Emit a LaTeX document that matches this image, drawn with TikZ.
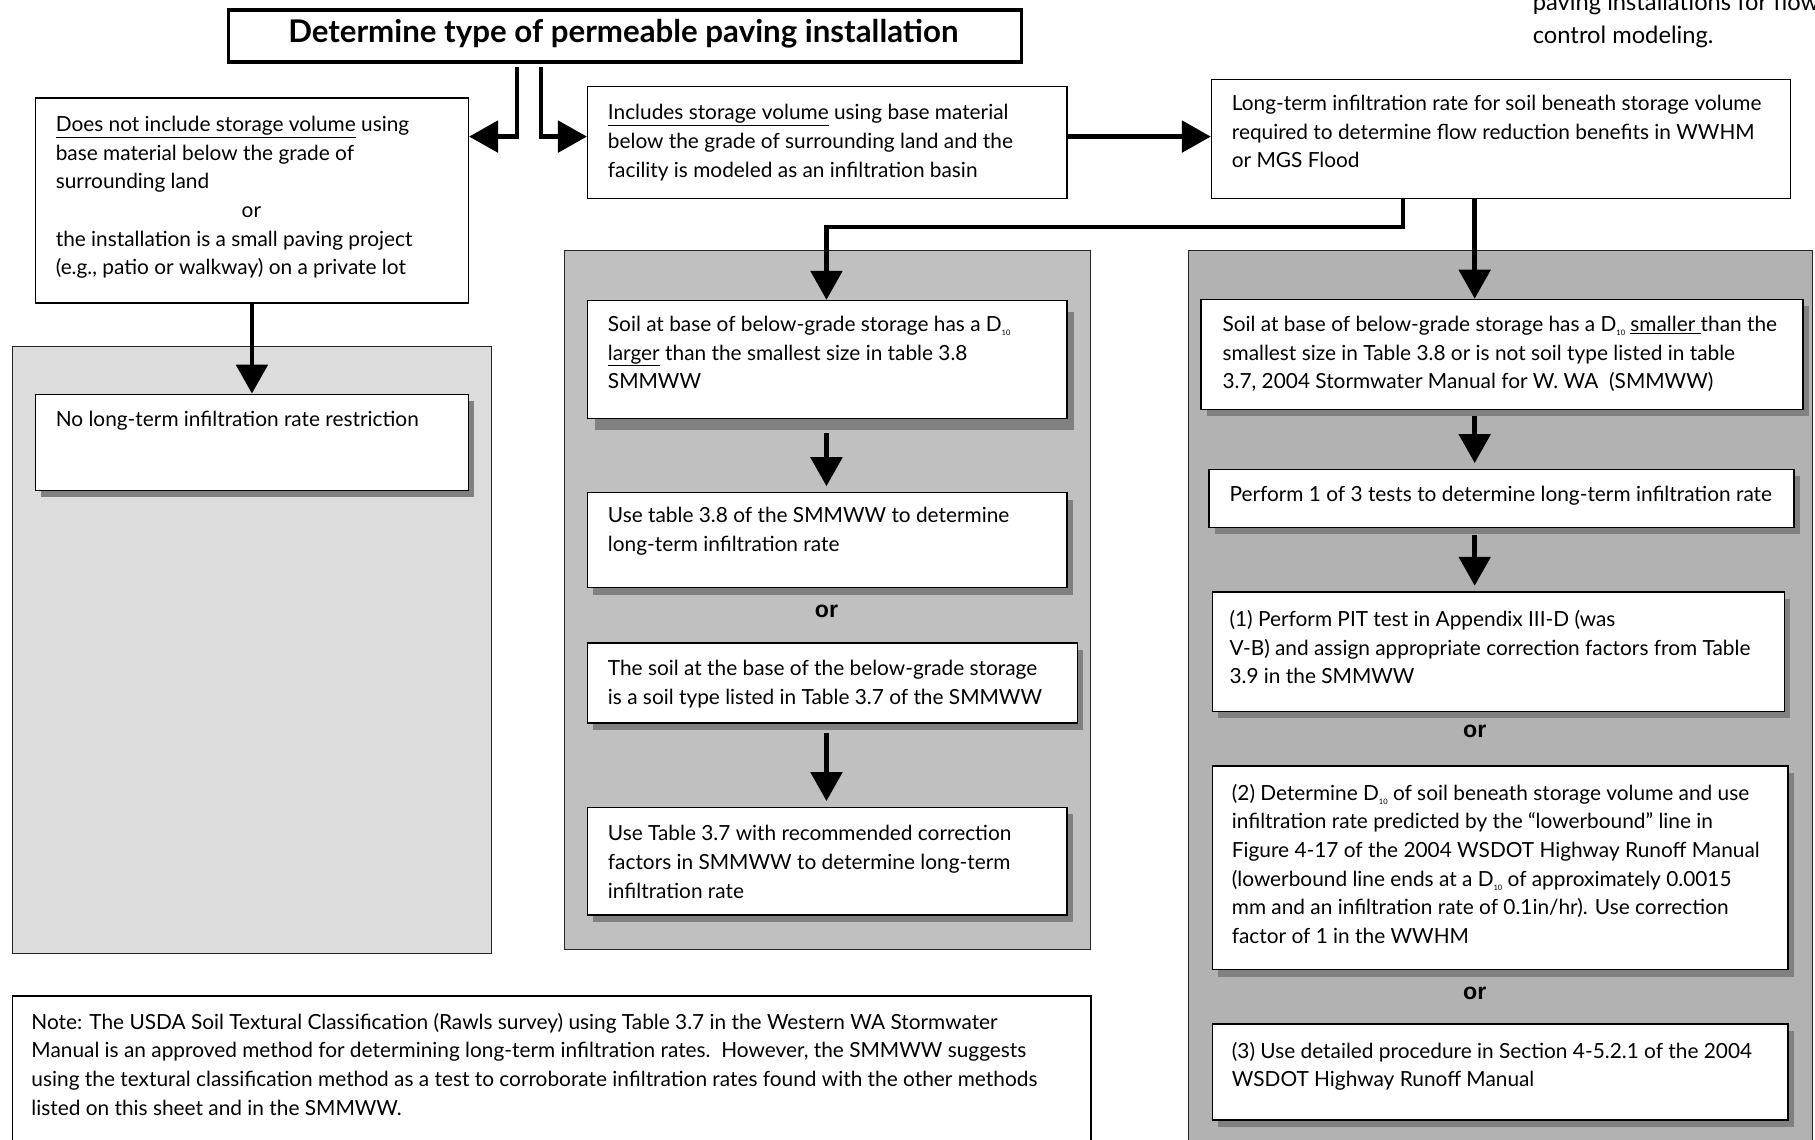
\documentclass[tikz,border=0pt]{standalone}
\usepackage{fontspec}
\setmainfont{Lato}
\newfontfamily\orfont{Liberation Sans}
\usetikzlibrary{arrows.meta,shadows,calc}
\definecolor{panelA}{RGB}{220,220,220}
\definecolor{panelB}{RGB}{192,192,192}
\definecolor{panelC}{RGB}{178,178,178}
\definecolor{shadowgray}{RGB}{128,128,128}
\newcommand{\Dten}{D\raisebox{-0.4ex}{\fontsize{6.5}{6.5}\selectfont 10}}
\newcommand{\mkbox}[6][box]{\node[#1, minimum width={(#5-#3)*1pt}, minimum height={(#6-#4)*1pt}] (#2) at (#3,#4) {};}
\tikzset{
  panel/.style={draw=black!85, line width=0.8pt, inner sep=0pt, anchor=north west},
  box/.style={draw=black, fill=white, line width=1.3pt, inner sep=0pt, anchor=north west},
  sbox/.style={box, drop shadow={shadow xshift=5pt, shadow yshift=-6pt, fill=shadowgray, opacity=1}},
  bigshad/.style={box, drop shadow={shadow xshift=6pt, shadow yshift=-10pt, fill=shadowgray, opacity=1}},
  titlebox/.style={box, line width=3pt},
  txt/.style={anchor=north west, inner sep=0pt, align=left, font=\fontsize{18}{24.8}\selectfont},
  orlbl/.style={font=\orfont\bfseries\fontsize{20}{20}\selectfont, inner sep=0pt},
  arr/.style={line width=4pt, -{Triangle[length=25pt,width=27pt]}, line join=miter},
}
\begin{document}
\begin{tikzpicture}[x=1pt,y=-1pt]
\useasboundingbox (0,0) rectangle (1568,984);
\clip (0,0) rectangle (1568,984);
% panels
\mkbox[panel, fill=panelA]{pl}{10}{299}{424}{823}
\mkbox[panel, fill=panelB]{pm}{487}{216}{942}{820}
\mkbox[panel, fill=panelC]{pr}{1026}{216}{1565}{1010}
% title
\mkbox[titlebox]{title}{196}{7}{881}{52}
\node[inner sep=0pt, font=\bfseries\fontsize{27}{27}\selectfont] (titlet) at (538.5,29) {Determine type of permeable paving installation};
% top right note
\node[txt, font=\fontsize{20.5}{28}\selectfont] (trt) at (1324,-6) {paving installations for flow\\control modeling.};
% first level boxes
\mkbox{dn}{30}{84}{404}{261}
\node[txt] (dnt) at (48,100) {\underline{Does not include storage volume} using\\base material below the grade of\\surrounding land\\\makebox[338pt]{or}\\the installation is a small paving project\\(e.g., patio or walkway) on a private lot};
\mkbox{inc}{507}{74}{921}{171}
\node[txt] (inct) at (525,90) {\underline{Includes storage volume} using base material\\below the grade of surrounding land and the\\facility is modeled as an infiltration basin};
\mkbox{lt}{1046}{68}{1546}{171}
\node[txt] (ltt) at (1064,82) {Long-term infiltration rate for soil beneath storage volume\\required to determine flow reduction benefits in WWHM\\or MGS Flood};
% left panel
\mkbox[sbox]{nl}{30}{340}{404}{423}
\node[txt] (nlt) at (48,355) {No long-term infiltration rate restriction};
% middle panel
\mkbox[bigshad]{sl}{507}{259}{921}{361}
\node[txt] (slt) at (525,273) {Soil at base of below-grade storage has a \Dten\\\underline{larger} than the smallest size in table 3.8\\SMMWW};
\mkbox[sbox]{u38}{507}{425}{921}{507}
\node[txt] (u38t) at (525,438) {Use table 3.8 of the SMMWW to determine\\long-term infiltration rate};
\node[orlbl] (or1) at (714,528) {or};
\mkbox[sbox]{st}{507}{555}{930}{624}
\node[txt] (stt) at (525,570) {The soil at the base of the below-grade storage\\is a soil type listed in Table 3.7 of the SMMWW};
\mkbox[sbox]{u37}{507}{697}{921}{790}
\node[txt] (u37t) at (525,713) {Use Table 3.7 with recommended correction\\factors in SMMWW to determine long-term\\infiltration rate};
% right panel
\mkbox[sbox]{ss}{1037}{258}{1557}{353}
\node[txt] (sst) at (1056,273) {Soil at base of below-grade storage has a \Dten{} \underline{smaller }than the\\smallest size in Table 3.8 or is not soil type listed in table\\3.7, 2004 Stormwater Manual for W. WA\ \ (SMMWW)};
\mkbox[sbox]{pf}{1044}{405}{1549}{455}
\node[txt] (pft) at (1062,420) {Perform 1 of 3 tests to determine long-term infiltration rate};
\mkbox[sbox]{t1}{1047}{511}{1541}{614}
\node[txt] (t1t) at (1062,527) {(1) Perform PIT test in Appendix III-D (was\\V-B) and assign appropriate correction factors from Table\\3.9 in the SMMWW};
\node[orlbl] (or2) at (1274,632) {or};
\mkbox[sbox]{t2}{1047}{661}{1544}{837}
\node[txt] (t2t) at (1064,677) {(2) Determine \Dten{} of soil beneath storage volume and use\\infiltration rate predicted by the “lowerbound” line in\\Figure 4-17 of the 2004 WSDOT Highway Runoff Manual\\(lowerbound line ends at a \Dten{} of approximately 0.0015\\mm and an infiltration rate of 0.1in/hr). Use correction\\factor of 1 in the WWHM};
\node[orlbl] (or3) at (1274,858) {or};
\mkbox[sbox]{t3}{1047}{884}{1544}{967}
\node[txt] (t3t) at (1064,900) {(3) Use detailed procedure in Section 4-5.2.1 of the 2004\\WSDOT Highway Runoff Manual};
% note
\mkbox{nt}{10}{860}{942}{1010}
\node[txt] (ntt) at (27,875) {Note: The USDA Soil Textural Classification (Rawls survey) using Table 3.7 in the Western WA Stormwater\\Manual is an approved method for determining long-term infiltration rates.\ \ However, the SMMWW suggests\\using the textural classification method as a test to corroborate infiltration rates found with the other methods\\listed on this sheet and in the SMMWW.};
% helper coordinates
\coordinate (ay) at (0,118);
\coordinate (mx) at (714,0);
\coordinate (rx) at (1274,0);
\coordinate (bend) at (1212,196);
% connectors
\draw[arr] ([xshift=-93.5pt,yshift=-3pt]title.south) |- (dn.east |- ay);
\draw[arr] ([xshift=-72.5pt,yshift=-3pt]title.south) |- (inc.west |- ay);
\draw[arr] (inc.east |- ay) -- (lt.west |- ay);
\draw[arr] (lt.south -| bend) -- (bend) -| (sl.north -| mx);
\draw[arr] (lt.south -| rx) -- (ss.north -| rx);
\draw[arr] (dn.south) -- (nl.north);
\draw[arr, shorten >=5pt] ([yshift=-12pt]sl.south -| mx) -- (u38.north -| mx);
\draw[arr, shorten >=5pt] ([yshift=-8pt]st.south -| mx) -- (u37.north -| mx);
\draw[arr, shorten >=5pt] ([yshift=-5pt]ss.south -| rx) -- (pf.north -| rx);
\draw[arr, shorten >=5pt] ([yshift=-6pt]pf.south -| rx) -- (t1.north -| rx);
\end{tikzpicture}
\end{document}
